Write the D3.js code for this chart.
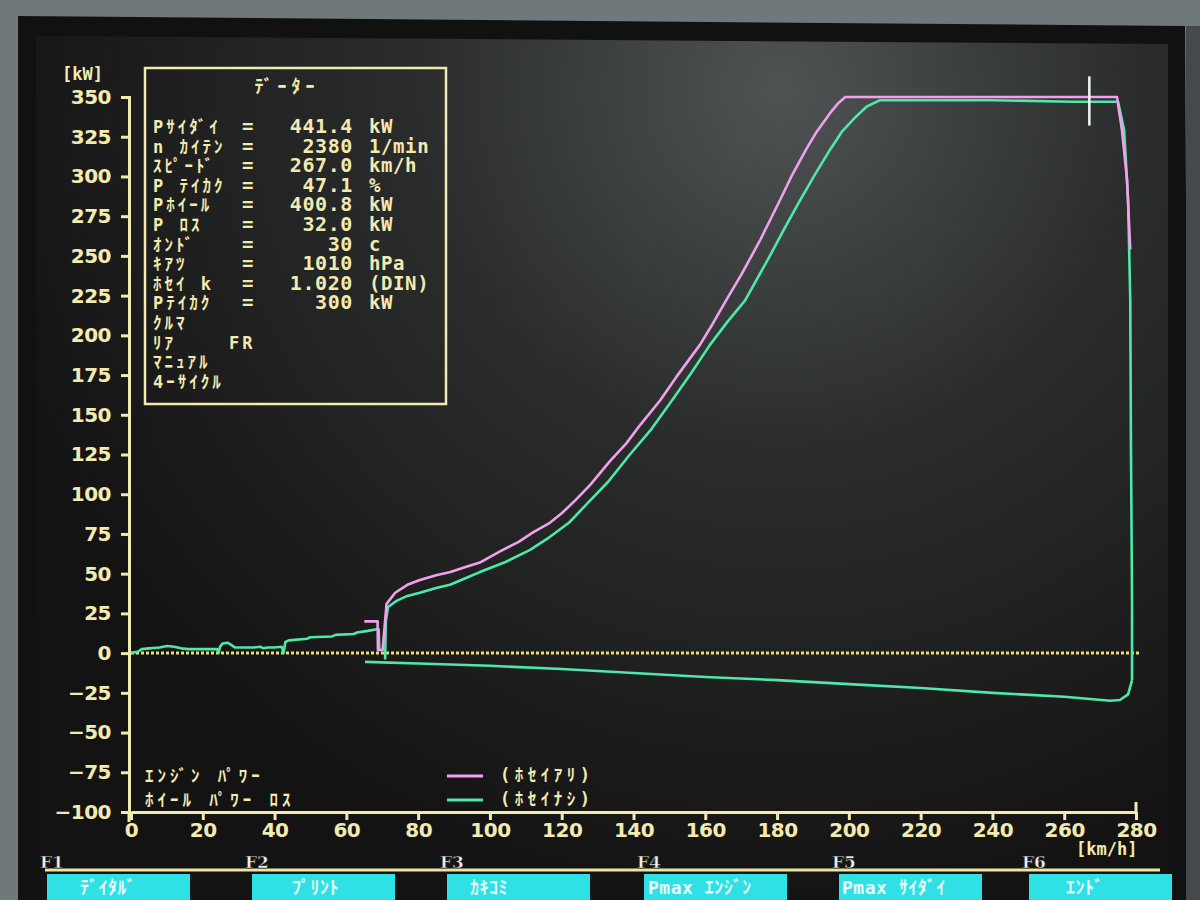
<!DOCTYPE html>
<html><head><meta charset="utf-8">
<script src="https://cdn.jsdelivr.net/npm/d3@7"></script>
<style>body{margin:0;background:#667072;} svg{display:block} text{white-space:pre}</style>
</head><body>
<svg id="c" width="1200" height="900"></svg>
<script>
// ---------------- data ----------------
const yTicks = [350,325,300,275,250,225,200,175,150,125,100,75,50,25,0,-25,-50,-75,-100];
const xTicks = [0,20,40,60,80,100,120,140,160,180,200,220,240,260,280];

// corrected engine power (ホセイアリ) [km/h, kW]
const pinkCorrected = [[65,20],[68.7,20],[68.8,2],[70.1,2],[71.2,31],[73.6,38],[77,43],[80.5,46],[85,49],[89,51],[93,54],[97.2,57],[102.8,64],[108,70],[112,76],[116.7,82],[120,88],[123.7,96],[128,106],[133.5,121],[138,132],[142,144],[147.4,159],[152,174],[158.5,194],[162,207],[165.8,222],[170,238],[175.3,260],[180.8,285],[184,300],[188.1,317],[191,328],[194.8,340],[197,346],[199,350],[230,350],[260,350],[274.7,350],[276.1,329],[277.5,298],[278.4,254]];

// uncorrected (ホセイナシ) – warm-up part
const greenLow = [[0,0],[2,1],[3,2.5],[5,3],[8,3.5],[10,4.5],[12,4],[14,3],[16,2.5],[22,2.5],[24,2.5],[24.4,0],[24.8,4],[25.5,6],[27,6.5],[28,5],[29,3.5],[34,3.5],[36,4],[37,3],[38,3.5],[40,3.5],[42,4],[42.5,0],[43,7],[44,8],[49,9],[50,10],[56,10.5],[57,11.5],[62,12],[63,13],[66,14],[68.5,15],[69,15],[69.2,2]];

// uncorrected (ホセイナシ) – power run
const greenRun = [[70.8,-4],[71.0,20],[71.6,29],[74.1,33],[77,36],[80.5,38],[85,41],[88.9,43],[93,47],[97.2,51],[104,57],[111.2,65],[116,72],[122,82],[127.9,96],[133,108],[139,125],[145,141],[150.7,159],[156,176],[161.3,194],[166,208],[171.1,222],[178,250],[182,267],[186.4,285],[190.5,301],[194.8,317],[198,328],[201.7,337],[205,344],[208.7,348],[240,348],[262,347],[275,347],[276.7,329],[277.8,285],[278.4,222],[278.6,128],[278.9,33],[278.9,-17]];

// wheel power loss (coast-down)
const wheelLoss = [[278.9,-17],[277.8,-26],[275.5,-29.5],[272.8,-30],[260,-27.5],[240,-25],[220,-22],[200,-19.5],[180,-17],[160,-15],[140,-12.5],[120,-10],[100,-8],[80,-6.5],[65.2,-5.5]];

const cursorSpeed = 267;

const dataTitle = "ﾃﾞｰﾀｰ";
const dataLabels = ["Pｻｲﾀﾞｲ","n ｶｲﾃﾝ","ｽﾋﾟｰﾄﾞ","P ﾃｲｶｸ","Pﾎｲｰﾙ","P ﾛｽ","ｵﾝﾄﾞ","ｷｱﾂ","ﾎｾｲ k","Pﾃｲｶｸ","ｸﾙﾏ","ﾘｱ    FR","ﾏﾆｭｱﾙ","4ｰｻｲｸﾙ"];
const dataValues = ["441.4","2380","267.0","47.1","400.8","32.0","30","1010","1.020","300"];
const dataUnits  = ["kW","1/min","km/h","%","kW","kW","c","hPa","(DIN)","kW"];

const legendLabels = ["ｴﾝｼﾞﾝ ﾊﾟﾜｰ","ﾎｲｰﾙ ﾊﾟﾜｰ ﾛｽ"];
const legendSeries = ["(ﾎｾｲｱﾘ)","(ﾎｾｲﾅｼ)"];

const fKeys = ["F1","F2","F3","F4","F5","F6"];
const fLabels = ["ﾃﾞｲﾀﾙﾞ","ﾌﾟﾘﾝﾄ","ｶｷｺﾐ","Pmax ｴﾝｼﾞﾝ","Pmax ｻｲﾀﾞｲ","ｴﾝﾄﾞ"];

// ---------------- drawing ----------------
const svg = d3.select("#c");
const YEL = "#f3eab0", PINK = "#f2a0ee", GREEN = "#4ee8a8";
const FONT = "'DejaVu Sans Mono','Noto Sans CJK JP',monospace";
const NUMFONT = "'DejaVu Sans','Noto Sans CJK JP',sans-serif";

const defs = svg.append("defs");
const rg = defs.append("radialGradient").attr("id","scr").attr("gradientUnits","userSpaceOnUse")
  .attr("cx",780).attr("cy",90).attr("r",820);
rg.append("stop").attr("offset","0").attr("stop-color","#4f5353");
rg.append("stop").attr("offset","0.45").attr("stop-color","#2a2c2c");
rg.append("stop").attr("offset","1").attr("stop-color","#141313");

// monitor / bezel
svg.append("rect").attr("width",1200).attr("height",900).attr("fill","#6f797b");
svg.append("path").attr("d","M18,16 L1185,26 L1190,900 L18,900 Z").attr("fill","#121112");
svg.append("path").attr("d","M36,36 L1168,44 L1168,900 L38,900 Z").attr("fill","url(#scr)");
svg.append("rect").attr("x",1186).attr("y",26).attr("width",14).attr("height",874).attr("fill","#44494b");

const x = d3.scaleLinear().domain([0,280]).range([131,1136]);
const y = d3.scaleLinear().domain([-100,350]).range([812,97]);

// zero line (dotted)
svg.append("line").attr("x1",x(0)).attr("x2",x(280)+4).attr("y1",y(0)).attr("y2",y(0))
  .attr("stroke","#e9dc78").attr("stroke-width",3).attr("stroke-dasharray","3,2");

// y axis
const gy = svg.append("g").attr("transform",`translate(${x(0)-2},0)`)
  .call(d3.axisLeft(y).tickValues(yTicks).tickSize(8).tickSizeOuter(8).tickPadding(10));
gy.select(".domain").attr("stroke",YEL).attr("stroke-width",3);
gy.selectAll(".tick line").attr("stroke",YEL).attr("stroke-width",3);
gy.selectAll(".tick text").attr("fill",YEL).attr("font-family",NUMFONT).attr("font-weight","bold")
  .attr("font-size",20).attr("letter-spacing","-0.5");
svg.append("line").attr("x1",x(0)-2).attr("x2",x(0)-2).attr("y1",y(-100)).attr("y2",y(-100)+10)
  .attr("stroke",YEL).attr("stroke-width",3);

// x axis
const gx = svg.append("g").attr("transform",`translate(0,${y(-100)})`)
  .call(d3.axisBottom(x).tickValues(xTicks).tickSize(8).tickSizeOuter(0).tickPadding(3));
gx.select(".domain").attr("stroke",YEL).attr("stroke-width",3);
gx.selectAll(".tick line").attr("stroke",YEL).attr("stroke-width",3);
gx.selectAll(".tick text").attr("fill",YEL).attr("font-family",NUMFONT).attr("font-weight","bold")
  .attr("font-size",20).attr("letter-spacing","-0.5");
svg.append("line").attr("x1",x(280)).attr("x2",x(280)).attr("y1",y(-100)-10).attr("y2",y(-100))
  .attr("stroke",YEL).attr("stroke-width",3);

// unit labels
svg.append("text").attr("x",62).attr("y",80).text("[kW]").attr("fill",YEL)
  .attr("font-family",FONT).attr("font-weight","bold").attr("font-size",17);
svg.append("text").attr("x",1076).attr("y",855).text("[km/h]").attr("fill",YEL)
  .attr("font-family",FONT).attr("font-weight","bold").attr("font-size",17);

// curves
const line = d3.line().x(d=>x(d[0])).y(d=>y(d[1]));
const curves = [[greenLow,GREEN],[wheelLoss,GREEN],[greenRun,GREEN],[pinkCorrected,PINK]];
svg.append("g").selectAll("path").data(curves).join("path")
  .attr("d",d=>line(d[0])).attr("fill","none").attr("stroke",d=>d[1])
  .attr("stroke-width",2.6).attr("stroke-linejoin","round");

// cursor
svg.append("line").attr("x1",x(cursorSpeed)).attr("x2",x(cursorSpeed))
  .attr("y1",y(363)).attr("y2",y(332)).attr("stroke","#f4f4f0").attr("stroke-width",2.5);

// data box
svg.append("rect").attr("x",145).attr("y",68).attr("width",301).attr("height",336)
  .attr("fill","none").attr("stroke",YEL).attr("stroke-width",2.5);
const tstyle = s => s.attr("fill",YEL).attr("font-family",FONT).attr("font-weight","bold");
tstyle(svg.append("text").attr("x",287).attr("y",93).attr("text-anchor","middle")
  .attr("font-size",18).attr("letter-spacing","5").text(dataTitle));
const rowY = i => i < 10 ? 133 + i*19.6 : 329 + (i-10)*19.7;
const gd = svg.append("g");
tstyle(gd.selectAll("text.lab").data(dataLabels).join("text").attr("class","lab")
  .attr("x",153).attr("y",(d,i)=>rowY(i)).attr("font-size",17).attr("letter-spacing","3").text(d=>d));
tstyle(gd.selectAll("text.eq").data(dataValues).join("text").attr("class","eq")
  .attr("x",242).attr("y",(d,i)=>rowY(i)).attr("font-size",19).text("="));
tstyle(gd.selectAll("text.val").data(dataValues).join("text").attr("class","val")
  .attr("x",353).attr("y",(d,i)=>rowY(i)).attr("text-anchor","end").attr("font-size",20)
  .attr("letter-spacing","0.6").text(d=>d));
tstyle(gd.selectAll("text.unit").data(dataUnits).join("text").attr("class","unit")
  .attr("x",369).attr("y",(d,i)=>rowY(i)).attr("font-size",19).attr("letter-spacing","0.6").text(d=>d));

// legend
const lg = svg.append("g");
tstyle(lg.selectAll("text.ll").data(legendLabels).join("text").attr("class","ll")
  .attr("x",145).attr("y",(d,i)=>782+i*24).attr("font-size",17).attr("letter-spacing","4").text(d=>d));
lg.selectAll("line").data([PINK,GREEN]).join("line")
  .attr("x1",447).attr("x2",483).attr("y1",(d,i)=>776+i*24).attr("y2",(d,i)=>776+i*24)
  .attr("stroke",d=>d).attr("stroke-width",3);
tstyle(lg.selectAll("text.ls").data(legendSeries).join("text").attr("class","ls")
  .attr("x",500).attr("y",(d,i)=>781+i*24).attr("font-size",17).attr("letter-spacing","4.5").text(d=>d));

// function keys
const fx = [40,245,440,637,832,1022];
const ftx = [80,292,470,648,842,1066];
svg.append("line").attr("x1",45).attr("x2",1160).attr("y1",870).attr("y2",870)
  .attr("stroke","#ede4a0").attr("stroke-width",3);
const fk = svg.append("g").selectAll("g").data(fKeys).join("g");
fk.append("rect").attr("x",(d,i)=>fx[i]+7).attr("y",874).attr("width",143).attr("height",30).attr("fill","#2fe0e4");
fk.append("text").attr("x",(d,i)=>fx[i]).attr("y",868).text(d=>d).attr("fill","#f0f0f0")
  .attr("font-family","'DejaVu Serif',serif").attr("font-weight","bold").attr("font-size",17)
  .attr("stroke","#111").attr("stroke-width",0.5);
fk.append("text").attr("x",(d,i)=>ftx[i]).attr("y",894).text((d,i)=>fLabels[i]).attr("fill","#eafcff")
  .attr("font-family",FONT).attr("font-weight","bold").attr("font-size",18).attr("letter-spacing","0.5").text((d,i)=>fLabels[i]);
</script>
</body></html>
